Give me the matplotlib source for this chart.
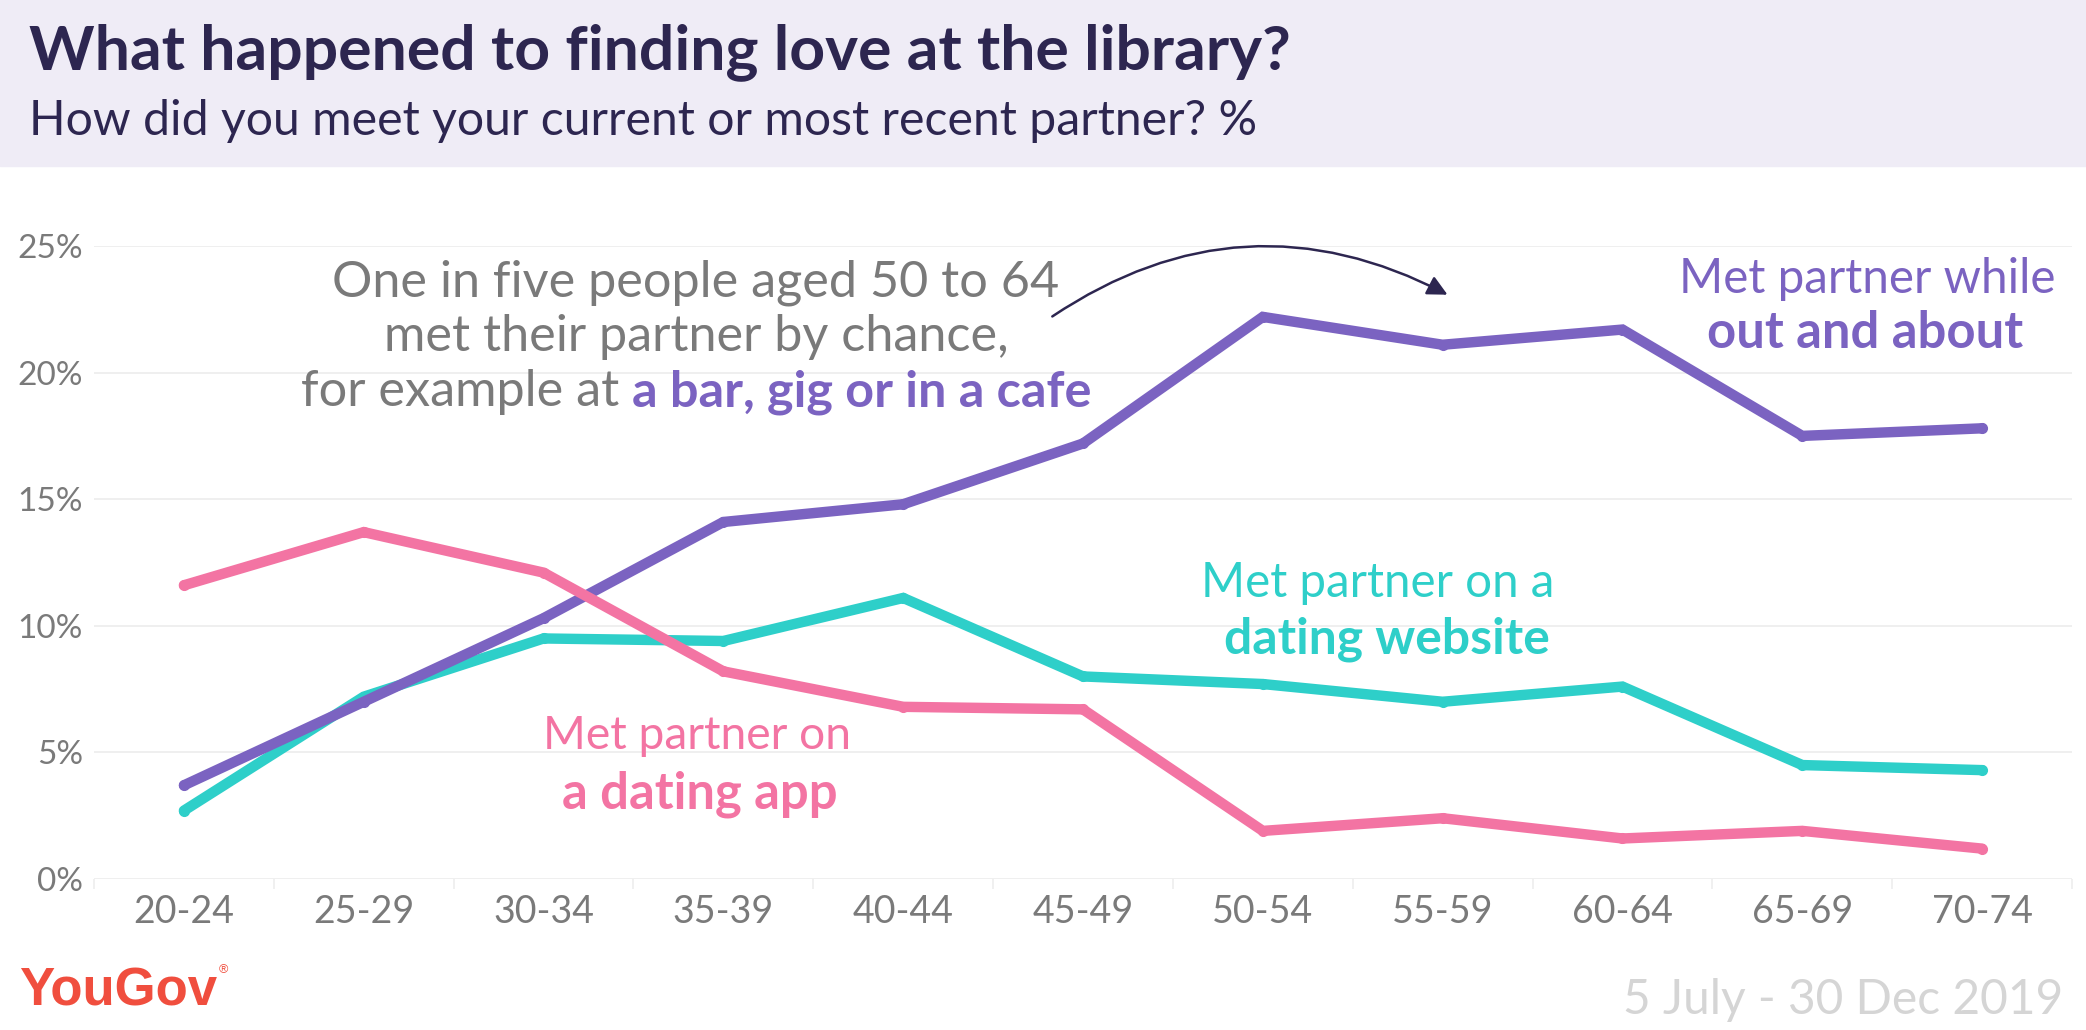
import matplotlib.pyplot as plt
from matplotlib.patches import Rectangle, FancyArrowPatch

# age groups on the x axis
AGES = ["20-24", "25-29", "30-34", "35-39", "40-44", "45-49",
        "50-54", "55-59", "60-64", "65-69", "70-74"]

# % who met their partner each way
OUT_AND_ABOUT = [3.7, 7.0, 10.3, 14.1, 14.8, 17.2, 22.2, 21.1, 21.7, 17.5, 17.8]
DATING_WEBSITE = [2.7, 7.2, 9.5, 9.4, 11.1, 8.0, 7.7, 7.0, 7.6, 4.5, 4.3]
DATING_APP = [11.6, 13.7, 12.1, 8.2, 6.8, 6.7, 1.9, 2.4, 1.6, 1.9, 1.2]

Y_TICKS = [0, 5, 10, 15, 20, 25]
Y_LABELS = ["0%", "5%", "10%", "15%", "20%", "25%"]

TITLE = "What happened to finding love at the library?"
SUBTITLE = "How did you meet your current or most recent partner? %"
NOTE_LINES = ["One in five people aged 50 to 64", "met their partner by chance,"]
NOTE_PLAIN = "for example at"
NOTE_BOLD = "a bar, gig or in a cafe"
DATE = "5 July - 30 Dec 2019"

PURPLE = "#7B63C1"
TEAL = "#2ECFC9"
PINK = "#F374A3"
NAVY = "#2D2650"
GREY = "#7A7A7A"
BAND = "#EFECF6"
RED = "#F04E3E"
FONT = "Lato"

W, H = 2086, 1030


# pixel position (from top left) -> figure fraction
def px(x, y):
    return x / W, 1 - y / H


# scale a text so that it is width_px wide
def fit(t, width_px):
    r = fig.canvas.get_renderer()
    w = t.get_window_extent(r).width
    t.set_fontsize(t.get_fontsize() * width_px / w)
    return t


def label(x, y, s, width, **kw):
    t = fig.text(*px(x, y), s, family=FONT, fontsize=30, **kw)
    return fit(t, width)


fig = plt.figure(figsize=(W / 100, H / 100), dpi=100)
fig.patches.append(Rectangle((0, 1 - 166 / H), 1, 166 / H,
                             transform=fig.transFigure, color=BAND, zorder=0))

label(29, 52, TITLE, 1259, color=NAVY, weight="bold", va="center")
label(29, 121, SUBTITLE, 1228, color=NAVY, va="center")

ax = fig.add_axes([94 / W, 1 - 879 / H, (2072 - 94) / W, (879 - 246) / H])
x = range(len(AGES))
for vals, col in [(DATING_WEBSITE, TEAL), (OUT_AND_ABOUT, PURPLE), (DATING_APP, PINK)]:
    ax.plot(x, vals, color=col, lw=7.5, solid_capstyle="round",
            solid_joinstyle="miter", marker="o", ms=7, clip_on=False)

ax.set_xlim(-0.5, len(AGES) - 0.5)
ax.set_ylim(0, 25)
for s in ax.spines.values():
    s.set_visible(False)
ax.set_yticks(Y_TICKS)
ax.set_yticklabels(Y_LABELS, family=FONT, fontsize=24, color=GREY)
ax.set_xticks(list(x))
ax.set_xticklabels(AGES, family=FONT, fontsize=27, color=GREY)
ax.set_xticks([i - 0.5 for i in range(len(AGES) + 1)], minor=True)
ax.tick_params(axis="y", length=0, pad=8)
ax.tick_params(axis="x", which="major", length=0, pad=11)
ax.tick_params(axis="x", which="minor", length=7, color="#EEEEEE", width=1.2)
ax.grid(axis="y", color="#EEEEEE", lw=1.3)
ax.set_axisbelow(True)

# annotation
note = [label(696, 283, NOTE_LINES[0], 726, color=GREY, ha="center", va="center")]
fs = note[0].get_fontsize()
note.append(fig.text(*px(696, 337), NOTE_LINES[1], family=FONT,
                     fontsize=fs, color=GREY, ha="center", va="center"))
r = fig.canvas.get_renderer()
p1 = fig.text(*px(0, 392), NOTE_PLAIN, family=FONT, fontsize=fs,
              color=GREY, va="center")
p2 = fig.text(*px(0, 392), NOTE_BOLD, family=FONT, weight="bold", fontsize=fs,
              color=PURPLE, va="center")
w1 = p1.get_window_extent(r).width
w2 = p2.get_window_extent(r).width
gap = fs * 100 / 72 * 0.26
x0 = 696 - (w1 + gap + w2) / 2
p1.set_x(x0 / W)
p2.set_x((x0 + w1 + gap) / W)

fig.add_artist(FancyArrowPatch(
    px(1050, 318), px(1450, 296), transform=fig.transFigure,
    connectionstyle="arc3,rad=-0.3", arrowstyle="-|>,head_length=12,head_width=6",
    color=NAVY, lw=1.8))

# series labels
label(1867, 279, "Met partner while", 376, color=PURPLE, ha="center", va="center")
label(1865, 334, "out and about", 315, color=PURPLE, weight="bold", ha="center", va="center")
label(1378, 583, "Met partner on a", 353, color=TEAL, ha="center", va="center")
label(1387, 639, "dating website", 326, color=TEAL, weight="bold", ha="center", va="center")
label(697, 736, "Met partner on", 308, color=PINK, ha="center", va="center")
label(700, 794, "a dating app", 275, color=PINK, weight="bold", ha="center", va="center")

# footer
yg = fig.text(*px(19, 991), "YouGov", family="Liberation Sans", weight="bold",
              fontsize=30, color=RED, va="center")
fit(yg, 198)
fig.text(*px(223, 970), "\u00ae", family="Liberation Sans", fontsize=9, color=RED,
         ha="center", va="center")
label(2063, 1000, DATE, 440, color="#D5D5D5", ha="right", va="center")

fig.savefig("out.png", dpi=100)
